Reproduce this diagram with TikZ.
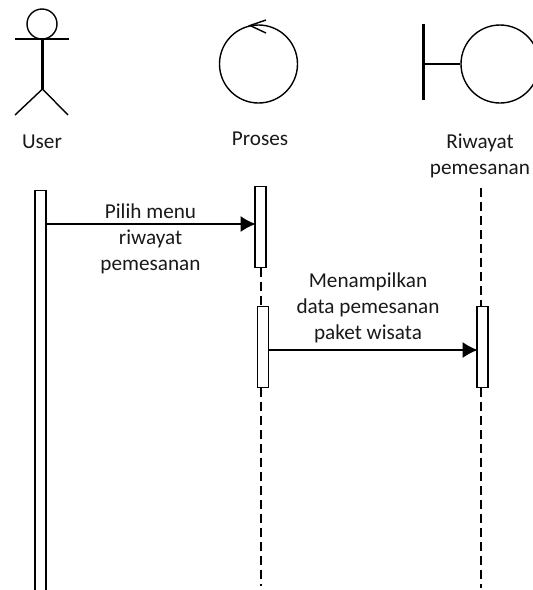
\documentclass[tikz,border=0pt]{standalone}
\usepackage{fontspec}
\setmainfont{Carlito}
\usetikzlibrary{arrows.meta}
\tikzset{
  lbl/.style={inner sep=0pt,font=\fontsize{21.2}{26}\selectfont,align=center,text=black!90},
  fig/.style={draw=black,line width=1.4pt},
  thick limb/.style={draw=black,line width=2.2pt},
  bar/.style={draw=black,line width=1.7pt,fill=white,inner sep=0pt,minimum width=11pt,anchor=north},
  life/.style={draw=black,line width=1.5pt,dash pattern=on 9pt off 5pt},
  msg/.style={draw=black,line width=1.5pt,-{Latex[length=15pt,width=16pt]},shorten >=-1.5pt}
}
\begin{document}
\begin{tikzpicture}[x=1pt,y=-1pt]
\useasboundingbox (0,0) rectangle (533,590);
\clip (0,0) rectangle (533,590);
% actor
\node[fig,circle,inner sep=0pt,minimum size=30pt] (head) at (42,24) {};
\coordinate (armL) at (15,39);
\coordinate (armR) at (69,39);
\coordinate (neck) at (42.5,39);
\coordinate (hip) at (42.5,89);
\coordinate (legL) at (15,115);
\coordinate (legR) at (68,115);
\draw[thick limb] (armL) -- (armR);
\draw[thick limb] (neck) -- (hip);
\draw[fig] (legL) -- (hip) -- (legR);
% control
\node[fig,circle,inner sep=0pt,minimum size=78pt] (ctl) at (258.5,64) {};
\coordinate (tipA) at (266,20);
\coordinate (tipB) at (266,33);
\coordinate (tip) at (250,25.5);
\draw[fig] (tipA) -- (tip) -- (tipB);
% boundary
\node[fig,circle,inner sep=0pt,minimum size=78pt] (bnd) at (500,64) {};
\coordinate (barT) at (423.5,24);
\coordinate (barB) at (423.5,100);
\coordinate (barM) at (423.5,64);
\draw[thick limb] (barT) -- (barB);
\draw[thick limb] (barM) -- (bnd.west);
% labels
\node[lbl] (tuser) at (42,141.5) {User};
\node[lbl] (tproses) at (260,139) {Proses};
\node[lbl] (triwayat) at (480,155.5) {Riwayat\\pemesanan};
% lifelines
\coordinate (pb) at (261,586);
\coordinate (rt) at (481,188);
\coordinate (rb) at (481,588);
\node[bar,minimum height=81pt] (p1) at (260.5,185.5) {};
\node[bar,minimum height=81pt] (p2) at (263,305.5) {};
\node[bar,minimum height=81pt] (r1) at (482.5,305.5) {};
\node[bar,minimum height=420pt] (u1) at (40.5,189.5) {};
\draw[life] (p1.south -| pb) -- (p2.north -| pb);
\draw[life] (p2.south -| pb) -- (pb);
\draw[life] (rt) -- (r1.north -| rt);
\draw[life] (r1.south -| rb) -- (rb);
% messages
\coordinate (m1) at (0,224);
\coordinate (m2) at (0,350);
\draw[msg] (u1.east |- m1) -- (p1.west |- m1);
\draw[msg] (p2.east |- m2) -- (r1.west |- m2);
\node[lbl] (tm1) at (150.5,238.5) {Pilih menu\\riwayat\\pemesanan};
\node[lbl] (tm2) at (368,307.5) {Menampilkan\\data pemesanan\\paket wisata};
\end{tikzpicture}
\end{document}
